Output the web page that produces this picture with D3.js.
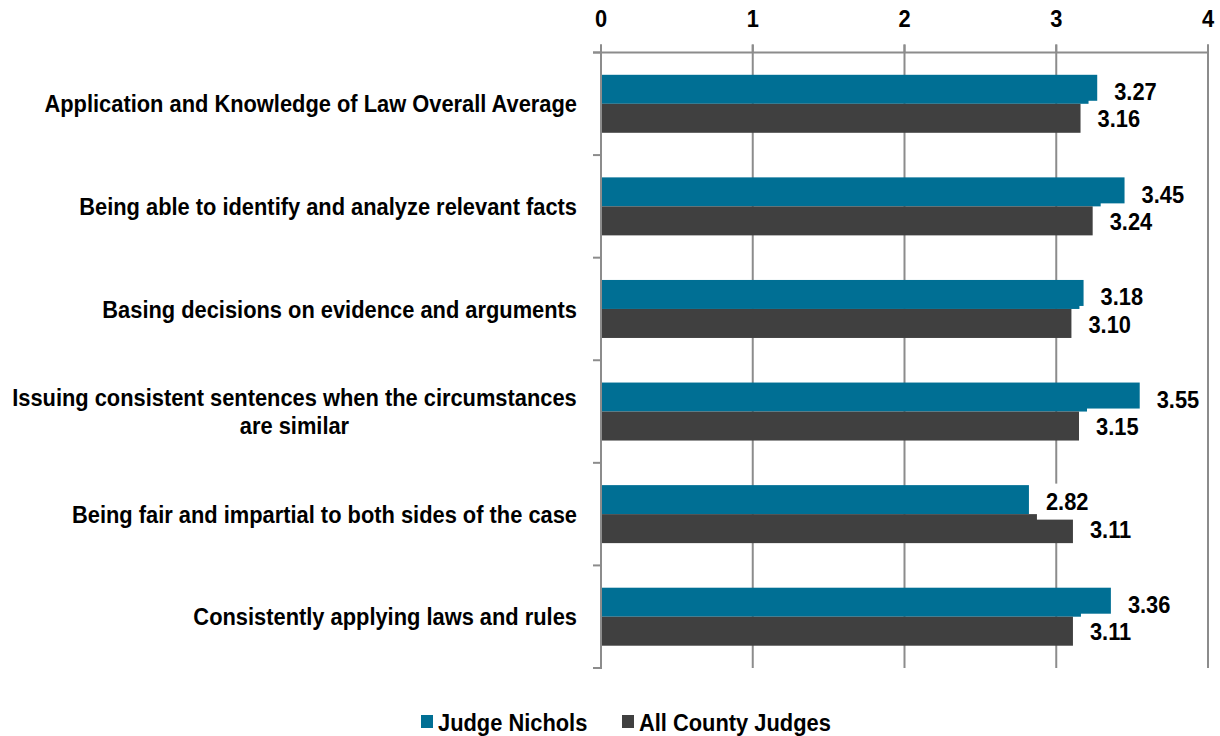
<!DOCTYPE html>
<html>
<head>
<meta charset="utf-8">
<script src="https://cdn.jsdelivr.net/npm/d3@7"></script>
<style>
  html, body { margin: 0; padding: 0; background: #ffffff; }
  svg { display: block; }
  text { font-family: "Liberation Sans Narrow", "Arial Narrow", "Liberation Sans", Arial, sans-serif; font-weight: bold; fill: #000; }
</style>
</head>
<body>
<script>
// ---- data ----
const categories = [
  "Application and Knowledge of Law Overall Average",
  "Being able to identify and analyze relevant facts",
  "Basing decisions on evidence and arguments",
  "Issuing consistent sentences when the circumstances\nare similar",
  "Being fair and impartial to both sides of the case",
  "Consistently applying laws and rules"
];
const judgeNichols = [3.27, 3.45, 3.18, 3.55, 2.82, 3.36];
const allCountyJudges = [3.16, 3.24, 3.10, 3.15, 3.11, 3.11];
const seriesNames = ["Judge Nichols", "All County Judges"];
const xTicks = [0, 1, 2, 3, 4];

// ---- styles ----
const W = 1220, H = 736;
const colors = ["#006f94", "#404040"];
const gridColor = "#8c8c8c";
const FS = 24;
const plot = { left: 601, right: 1208, top: 52.5, bottom: 668 };

const svg = d3.select("body").append("svg").attr("width", W).attr("height", H);

// measure horizontal scale to match reference text width
const probe = svg.append("text").attr("font-size", FS).text(categories[0]);
const probeW = probe.node().getComputedTextLength();
probe.remove();
const SX = 533 / probeW;

const x = d3.scaleLinear().domain([0, 4]).range([plot.left, plot.right]);
const y = d3.scaleBand().domain(d3.range(categories.length)).range([plot.top, plot.bottom]).paddingInner(0).paddingOuter(0);
const barH = 29;
const sub = d3.scaleBand().domain([0, 1]).range([0, barH * 2]);
const barOffset = (y.bandwidth() - barH * 2) / 2;

function txt(g, tx, ty, s, anchor) {
  return g.append("text")
    .attr("transform", `translate(${tx},${ty}) scale(${SX},1)`)
    .attr("font-size", FS)
    .attr("text-anchor", anchor || "start")
    .text(s);
}

// gridlines
svg.append("g").selectAll("line").data(xTicks.slice(1)).join("line")
  .attr("x1", d => x(d)).attr("x2", d => x(d))
  .attr("y1", plot.top - 8).attr("y2", plot.bottom)
  .attr("stroke", gridColor).attr("stroke-width", 2);

// bars
const series = [judgeNichols, allCountyJudges];
const barsG = svg.append("g");
series.forEach((vals, si) => {
  barsG.selectAll(null).data(vals).join("rect")
    .attr("x", x(0) + 1)
    .attr("y", (d, i) => y(i) + barOffset + sub(si))
    .attr("width", d => x(d) - x(0) - 1)
    .attr("height", barH)
    .attr("fill", colors[si]);
});

// value labels (with white backgrounds as in the reference)
const labG = svg.append("g");
series.forEach((vals, si) => {
  vals.forEach((v, i) => {
    const cy = y(i) + barOffset + sub(si) + barH / 2 + (si === 0 ? 2 : 0.5);
    const tx = x(v) + 17;
    const t = txt(labG, tx, cy + 0.36 * FS, d3.format(".2f")(v));
    const w = t.node().getComputedTextLength() * SX;
    labG.insert("rect", "text")
      .attr("x", tx - 9).attr("y", cy - 9 - 9)
      .attr("width", w + 13).attr("height", 36)
      .attr("fill", "#fff");
  });
});

// top axis line and ticks
svg.append("line")
  .attr("x1", plot.left - 8).attr("x2", plot.right)
  .attr("y1", plot.top).attr("y2", plot.top)
  .attr("stroke", gridColor).attr("stroke-width", 2);
svg.append("g").selectAll("line").data(xTicks).join("line")
  .attr("x1", d => x(d)).attr("x2", d => x(d))
  .attr("y1", plot.top - 8).attr("y2", plot.top)
  .attr("stroke", gridColor).attr("stroke-width", 2);
xTicks.forEach(d => txt(svg, x(d), 18 + 0.36 * FS, String(d), "middle"));

// left axis line and category ticks
svg.append("line")
  .attr("x1", plot.left).attr("x2", plot.left)
  .attr("y1", plot.top - 8).attr("y2", plot.bottom + 1)
  .attr("stroke", gridColor).attr("stroke-width", 2);
svg.append("g").selectAll("line").data(d3.range(categories.length + 1)).join("line")
  .attr("x1", plot.left - 8).attr("x2", plot.left)
  .attr("y1", d => plot.top + d * y.step()).attr("y2", d => plot.top + d * y.step())
  .attr("stroke", gridColor).attr("stroke-width", 2);

// category labels (right-aligned block, centered lines)
const catG = svg.append("g");
categories.forEach((c, i) => {
  const lines = c.split("\n");
  const lh = 28;
  const cy = y(i) + y.bandwidth() / 2;
  const widths = lines.map(l => {
    const t = catG.append("text").attr("font-size", FS).text(l);
    const w = t.node().getComputedTextLength() * SX;
    t.remove();
    return w;
  });
  const maxW = d3.max(widths);
  lines.forEach((l, li) => {
    const ly = cy + (li - (lines.length - 1) / 2) * lh + 0.36 * FS;
    if (lines.length === 1) txt(catG, 577, ly, l, "end");
    else txt(catG, 577 - maxW / 2, ly, l, "middle");
  });
});

// legend
const legend = [{ sx: 421, tx: 438 }, { sx: 622, tx: 639 }];
legend.forEach((L, i) => {
  svg.append("rect").attr("x", L.sx).attr("y", 715).attr("width", 12).attr("height", 13).attr("fill", colors[i]);
  txt(svg, L.tx, 722 + 0.36 * FS, seriesNames[i]);
});
</script>
</body>
</html>
